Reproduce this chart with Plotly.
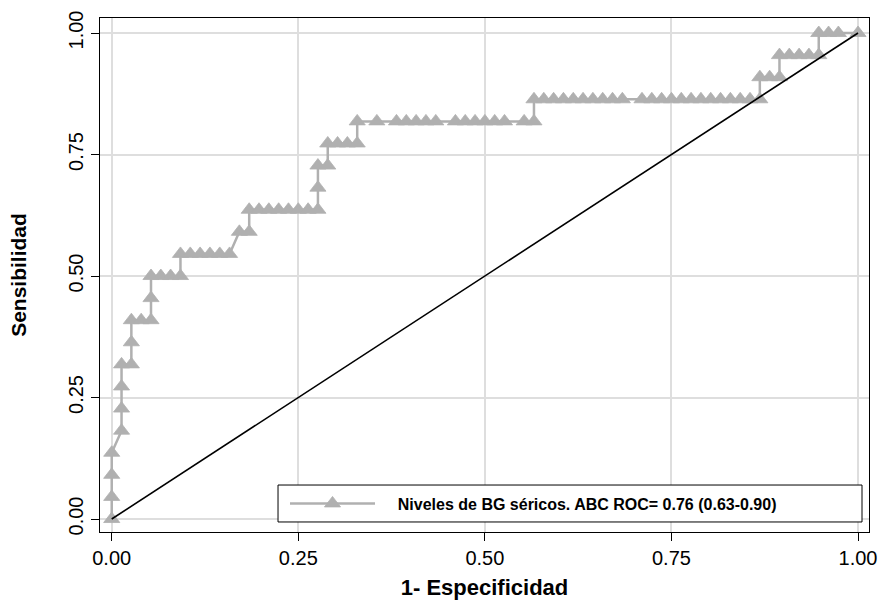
import plotly.graph_objects as go

# ROC curve: counts of false positives (of 76 negatives)
# and true positives (of 22 positives) at each cut-off
N_NEG = 76
N_POS = 22
false_pos = [0, 0, 0, 0, 1, 1, 1, 1, 2, 2, 2, 3, 4, 4, 4, 5, 6, 7, 7, 8, 9, 10, 11, 12,
             13, 14, 14, 15, 16, 17, 18, 19, 20, 21, 21, 21, 22, 22, 23, 24, 25, 25,
             27, 29, 30, 31, 32, 33, 35, 36, 37, 38, 39, 40, 42, 43, 43,
             44, 45, 46, 47, 48, 49, 50, 51, 52, 54, 55, 56, 57, 58, 59, 60, 61, 62,
             63, 64, 65, 66, 66, 67, 68, 68, 69, 70, 71, 72, 72, 73, 74, 76]
true_pos = [0, 1, 2, 3, 4, 5, 6, 7, 7, 8, 9, 9, 9, 10, 11, 11, 11, 11, 12, 12, 12, 12, 12, 12,
            13, 13, 14, 14, 14, 14, 14, 14, 14, 14, 15, 16, 16, 17, 17, 17, 17, 18,
            18, 18, 18, 18, 18, 18, 18, 18, 18, 18, 18, 18, 18, 18, 19,
            19, 19, 19, 19, 19, 19, 19, 19, 19, 19, 19, 19, 19, 19, 19, 19, 19, 19,
            19, 19, 19, 19, 20, 20, 20, 21, 21, 21, 21, 21, 22, 22, 22, 22]

fpr = [k / N_NEG for k in false_pos]
tpr = [j / N_POS for j in true_pos]

ref_x = [0, 1]
ref_y = [0, 1]

tick_vals = [0, 0.25, 0.5, 0.75, 1.0]
tick_text = ["0.00", "0.25", "0.50", "0.75", "1.00"]

legend_label = "Niveles de BG séricos. ABC ROC= 0.76 (0.63-0.90)"

GREY = "#b0b0b0"
FONT = "Liberation Sans, Arial, sans-serif"

fig = go.Figure()
fig.add_trace(go.Scatter(
    x=fpr, y=tpr, mode="lines+markers",
    name="&nbsp;&nbsp;&nbsp;&nbsp;<b>" + legend_label + "</b>",
    line=dict(color=GREY, width=2.5),
    marker=dict(symbol="triangle-up", size=14, color=GREY,
                line=dict(color=GREY, width=0.8)),
))
fig.add_trace(go.Scatter(
    x=ref_x, y=ref_y, mode="lines", showlegend=False,
    line=dict(color="black", width=1.6),
))

axis_common = dict(
    tickvals=tick_vals, ticktext=tick_text, automargin=False,
    showgrid=True, gridcolor="#dedede", gridwidth=1.5,
    zeroline=False, showline=True, mirror=True, linecolor="black", linewidth=1,
    ticks="outside", ticklen=8, tickcolor="black", tickwidth=1,
    tickfont=dict(family=FONT, size=20, color="black"),
)

# legend frame (inside the plot region, white filled)
fig.add_shape(type="rect", xref="paper", yref="paper",
              x0=0.2315, x1=0.9909, y0=0.0195, y1=0.0914,
              line=dict(color="black", width=1), fillcolor="white", layer="above")

fig.update_layout(
    width=879, height=601,
    margin=dict(l=100, r=10, t=18, b=69, autoexpand=False),
    paper_bgcolor="white", plot_bgcolor="white",
    font=dict(family=FONT, color="black"),
    xaxis=dict(range=[-0.0157, 1.0147],
               title=dict(text="<b>1- Especificidad</b>", font=dict(size=22), standoff=11),
               **axis_common),
    yaxis=dict(range=[-0.0267, 1.0309], tickangle=-90,
               title=dict(text="<b>Sensibilidad</b>", font=dict(size=21), standoff=32),
               **axis_common),
    legend=dict(
        x=(285 - 100) / 769, y=0.0554, xanchor="left", yanchor="middle",
        borderwidth=0, bgcolor="rgba(0,0,0,0)",
        itemwidth=85,
        font=dict(family=FONT, size=16, color="black"),
    ),
    showlegend=True,
)

fig.write_html("out.html")
